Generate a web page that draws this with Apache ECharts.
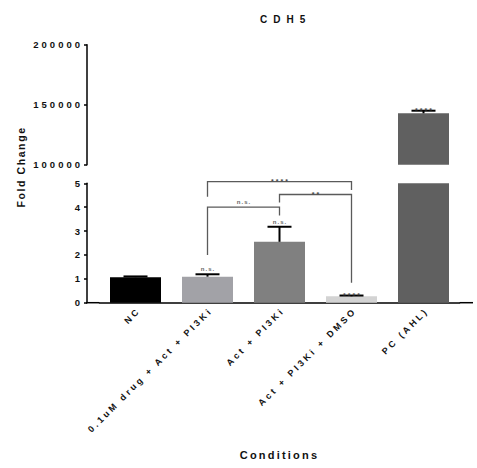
<!DOCTYPE html>
<html><head><meta charset="utf-8">
<script src="https://cdn.jsdelivr.net/npm/echarts@6/dist/echarts.min.js"></script>
<style>
html,body{margin:0;padding:0;background:#fff;}
#chart{width:477px;height:468px;}
#chart text[style*="font-size:10px"], #chart text[style*="font-size: 10px"]{letter-spacing:6px;}
#chart text[style*="font-size:9px"], #chart text[style*="font-size: 9px"]{letter-spacing:2.8px;}
#chart text[style*="font-size:9.5px"], #chart text[style*="font-size: 9.5px"]{letter-spacing:3px;}
#chart text[style*="font-size:10.5px"], #chart text[style*="font-size: 10.5px"]{letter-spacing:1.6px;}
#chart text[style*="font-size:11px"], #chart text[style*="font-size: 11px"]{letter-spacing:2.2px;}
#chart text[style*="font-size:6px"], #chart text[style*="font-size: 6px"]{letter-spacing:1.1px;}
#chart text[style*="font-size:7px"], #chart text[style*="font-size: 7px"]{letter-spacing:2px;}
</style></head>
<body><div id="chart"></div>
<script>
// ---- data ----
const titleText = 'CDH5';
const yAxisTitle = 'Fold Change';
const xAxisTitle = 'Conditions';
const categories = ['NC', '0.1uM drug + Act + PI3Ki', 'Act + PI3Ki', 'Act + PI3Ki + DMSO', 'PC (AHL)'];
const meanValues = [1.07, 1.09, 2.55, 0.27, 142833];
const upperValues = [1.10, 1.19, 3.18, 0.30, 145000];
const barLabels = ['', 'n.s.', 'n.s.', '****', '****'];
const barColors = ['#000000', '#a2a2a7', '#808080', '#d3d3d3', '#606060'];
const upperTicks = [100000, 150000, 200000];
const lowerTicks = [0, 1, 2, 3, 4, 5];
// significance brackets
const bracketFrom = [1, 2, 1];
const bracketTo = [2, 3, 3];
const bracketTop = [4.0, 4.53, 5.07];
const bracketLeftEnd = [2.0, 4.2, 4.44];
const bracketRightEnd = [3.65, 0.84, 4.72];
const bracketLabels = ['n.s.', '**', '****'];

// ---- layout ----
const FONT = 'Liberation Sans';
const gridLeft = 99.5, gridWidth = 360;
const topGrid = {top: 44.7, height: 120};
const botGrid = {top: 183.3, height: 119.4};
const axisX = 87;
const axisEndX = 473;

const lowerMax = lowerTicks[lowerTicks.length - 1];
const errLow = [], errHigh = [];
meanValues.forEach((v, i) => {
  const row = [i, v, upperValues[i]];
  if (upperValues[i] <= lowerMax) errLow.push(row); else errHigh.push(row);
});
const bracketData = bracketFrom.map((f, i) => [f, bracketTo[i], bracketTop[i], bracketLeftEnd[i], bracketRightEnd[i]]);

function sigText(x, yLine, lab) {
  const star = lab.indexOf('*') >= 0;
  return {type: 'text', x: x + (star ? 1 : 0.5), y: yLine + (star ? 3.5 : -2),
    style: {text: lab, fontSize: star ? 7 : 6, fontFamily: FONT, fontWeight: 'bold',
      fill: star ? '#4a4a4a' : '#666', align: 'center', verticalAlign: 'bottom'}};
}

function renderErr(params, api) {
  const idx = api.value(0);
  const top = api.coord([idx, api.value(2)]);
  const base = api.coord([idx, api.value(1)]);
  const half = 12;
  const lab = barLabels[idx];
  const children = [
    {type: 'line', shape: {x1: top[0], y1: top[1], x2: base[0], y2: base[1]}, style: {stroke: '#000', lineWidth: 2}},
    {type: 'line', shape: {x1: top[0] - half, y1: top[1], x2: top[0] + half, y2: top[1]}, style: {stroke: '#000', lineWidth: 2}}
  ];
  if (lab) children.push(sigText(top[0], top[1], lab));
  return {type: 'group', children};
}

function renderBracket(params, api) {
  const x1 = api.value(0), x2 = api.value(1);
  const tl = api.coord([x1, api.value(2)]);
  const tr = api.coord([x2, api.value(2)]);
  const pl = api.coord([x1, api.value(3)]);
  const pr = api.coord([x2, api.value(4)]);
  const lab = bracketLabels[params.dataIndex];
  return {type: 'group', children: [
    {type: 'polyline', shape: {points: [pl, tl, tr, pr]}, style: {stroke: '#5a5a5a', lineWidth: 1.3, fill: null}},
    sigText((tl[0] + tr[0]) / 2, tl[1], lab)
  ]};
}

const chart = echarts.init(document.getElementById('chart'), null, {renderer: 'svg'});
const axisLineStyle = {color: '#000', width: 1.5};
const yLabel = {fontSize: 9.5, fontWeight: 'bold', fontFamily: FONT, color: '#111', margin: 4,
  formatter: v => String(v)};
chart.setOption({
  animation: false,
  backgroundColor: '#fff',
  textStyle: {fontFamily: FONT, fontWeight: 'bold'},
  title: {text: titleText, left: 255, top: 9,
    textStyle: {fontSize: 10, fontWeight: 'bold', fontFamily: FONT, color: '#111'}},
  grid: [
    {left: gridLeft, width: gridWidth, top: topGrid.top, height: topGrid.height},
    {left: gridLeft, width: gridWidth, top: botGrid.top, height: botGrid.height}
  ],
  xAxis: [
    {type: 'category', gridIndex: 0, data: categories, show: false},
    {type: 'category', gridIndex: 1, data: categories,
      axisLine: {lineStyle: axisLineStyle},
      axisTick: {alignWithLabel: true, length: 4, lineStyle: {color: '#000', width: 1.5}},
      axisLabel: {interval: 0, rotate: 45, margin: 10, padding: [0, -5, 0, 0],
        fontSize: 9, fontWeight: 'bold', fontFamily: FONT, color: '#111'},
      name: xAxisTitle, nameLocation: 'middle', nameGap: 147,
      nameTextStyle: {fontSize: 11, fontWeight: 'bold', fontFamily: FONT, color: '#111'}}
  ],
  yAxis: [
    {type: 'value', gridIndex: 0, min: upperTicks[0], max: upperTicks[upperTicks.length - 1],
      interval: upperTicks[1] - upperTicks[0], offset: gridLeft - axisX,
      axisLine: {show: true, lineStyle: axisLineStyle},
      axisTick: {show: true, length: 3, lineStyle: {color: '#000', width: 1.5}},
      splitLine: {show: false}, axisLabel: yLabel},
    {type: 'value', gridIndex: 1, min: lowerTicks[0], max: lowerMax,
      interval: lowerTicks[1] - lowerTicks[0], offset: gridLeft - axisX,
      axisLine: {show: true, lineStyle: axisLineStyle},
      axisTick: {show: true, length: 3, lineStyle: {color: '#000', width: 1.5}},
      splitLine: {show: false}, axisLabel: yLabel}
  ],
  graphic: [
    {type: 'text', x: 21, y: 167, rotation: Math.PI / 2,
      style: {text: yAxisTitle, fontSize: 10.5, fontWeight: 'bold', fontFamily: FONT, fill: '#111', align: 'center', verticalAlign: 'middle'}},
    {type: 'line', shape: {x1: axisX - 1, y1: botGrid.top + botGrid.height, x2: gridLeft, y2: botGrid.top + botGrid.height},
      style: {stroke: '#000', lineWidth: 1.5}},
    {type: 'line', shape: {x1: gridLeft + gridWidth, y1: botGrid.top + botGrid.height, x2: axisEndX, y2: botGrid.top + botGrid.height},
      style: {stroke: '#000', lineWidth: 1.5}}
  ],
  series: [
    {type: 'bar', xAxisIndex: 0, yAxisIndex: 0, data: meanValues, barWidth: 51, clip: true,
      itemStyle: {color: p => barColors[p.dataIndex]}},
    {type: 'bar', xAxisIndex: 1, yAxisIndex: 1, data: meanValues, barWidth: 51, clip: true,
      itemStyle: {color: p => barColors[p.dataIndex]}},
    {type: 'custom', xAxisIndex: 0, yAxisIndex: 0, data: errHigh, renderItem: renderErr, z: 5,
      encode: {x: 0, y: [1, 2]}},
    {type: 'custom', xAxisIndex: 1, yAxisIndex: 1, data: errLow, renderItem: renderErr, z: 5,
      encode: {x: 0, y: [1, 2]}},
    {type: 'custom', xAxisIndex: 1, yAxisIndex: 1, data: bracketData, renderItem: renderBracket, z: 6,
      encode: {x: [0, 1], y: [2, 3, 4]}}
  ]
});
</script>
</body></html>
